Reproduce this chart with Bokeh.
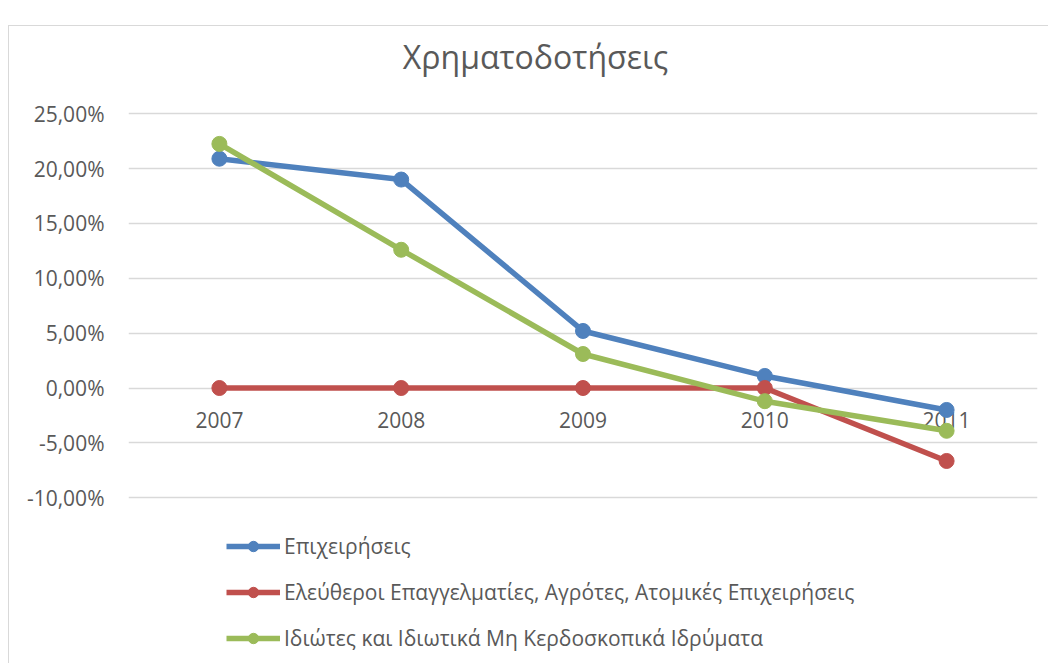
from bokeh.plotting import figure
from bokeh.models import (Range1d, FactorRange, CustomJSTickFormatter, Legend, LegendItem,
                          ColumnDataSource, FixedTicker, Label)
from bokeh.core.properties import value
from bokeh.embed import file_html
from bokeh.resources import INLINE

years = ["2007", "2008", "2009", "2010", "2011"]
epixeiriseis = [20.9, 19.0, 5.2, 1.1, -2.0]
eleftheroi = [0.0, 0.0, 0.0, 0.0, -6.65]
idiotes = [22.25, 12.6, 3.1, -1.2, -3.9]
series_names = [
    "Επιχειρήσεις",
    "Ελεύθεροι Επαγγελματίες, Αγρότες, Ατομικές Επιχειρήσεις",
    "Ιδιώτες και Ιδιωτικά Μη Κερδοσκοπικά Ιδρύματα",
]
series_colors = ["#4f81bd", "#c0504d", "#9bbb59"]
y_ticks = [-10, -5, 0, 5, 10, 15, 20, 25]
title_text = "Χρηματοδοτήσεις"

FONT = "Open Sans"
TXT = "#595959"
FS = "21px"

# the plot area extends above 25% and below -10% to hold the title and the legend
p = figure(width=1040, height=638,
           x_range=FactorRange(*years, range_padding=0),
           y_range=Range1d(-25.2, 32.95),
           x_axis_location=None,
           output_backend="svg", toolbar_location=None,
           min_border_left=119, min_border_right=12, min_border_top=0,
           min_border_bottom=0)
p.margin = (25, 0, 0, 8)
p.styles = {"border-left": "1px solid #d9d9d9", "border-top": "1px solid #d9d9d9"}

p.outline_line_color = None
p.xgrid.visible = False
p.ygrid.ticker = FixedTicker(ticks=y_ticks)
p.ygrid.grid_line_color = "#d9d9d9"
p.ygrid.grid_line_width = 1.3

ya = p.yaxis[0]
ya.ticker = FixedTicker(ticks=y_ticks)
ya.formatter = CustomJSTickFormatter(code="return tick.toFixed(2).replace('.', ',') + '%';")
ya.axis_line_color = None
ya.major_tick_line_color = None
ya.minor_tick_line_color = None
ya.major_tick_out = 0
ya.major_label_standoff = 24
ya.major_label_text_font = FONT
ya.major_label_text_font_size = FS
ya.major_label_text_color = TXT

# chart title (screen units, relative to the plot area's bottom-left corner)
title = Label(x=407, y=608, x_units="screen", y_units="screen", text=title_text,
              text_align="center", text_baseline="alphabetic",
              text_font=FONT, text_font_size="32px", text_color=TXT)
p.add_layout(title)

# category labels along the zero line
lab_src = ColumnDataSource(dict(x=years, y=[0] * len(years), t=years))
p.text(x="x", y="y", text="t", source=lab_src, text_align="center",
       text_baseline="middle", y_offset=32, text_font=value(FONT),
       text_font_size=FS, text_color=TXT)

items = []
for vals, name, col in zip([epixeiriseis, eleftheroi, idiotes], series_names, series_colors):
    src = ColumnDataSource(dict(x=years, y=vals))
    lr = p.line("x", "y", source=src, line_color=col, line_width=5.5)
    cr = p.scatter("x", "y", source=src, marker="circle", size=15,
                   fill_color=col, line_color=col)
    items.append(LegendItem(label=name, renderers=[lr, cr]))

legend = Legend(items=items, location=(98, 12), orientation="vertical",
                glyph_width=54, glyph_height=26, label_height=26, spacing=18,
                label_standoff=4, padding=0, margin=0,
                border_line_color=None, background_fill_alpha=0,
                label_text_font=FONT, label_text_font_size=FS,
                label_text_color=TXT)
p.add_layout(legend, "center")

open("out.html", "w").write(file_html(p, INLINE))
